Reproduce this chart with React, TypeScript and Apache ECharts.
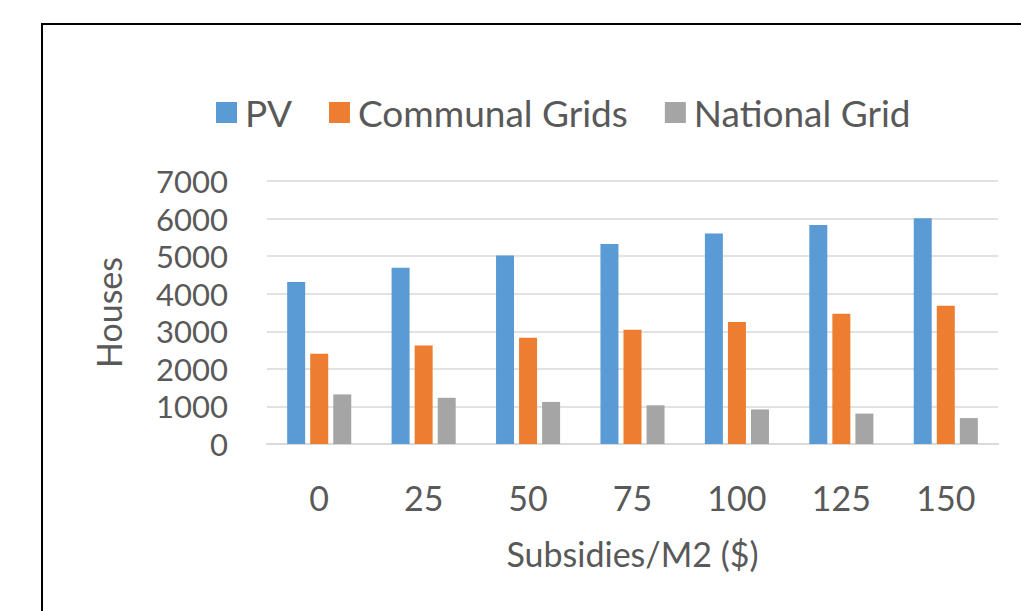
import React, { useEffect, useRef } from "react";
import * as echarts from "echarts";

const categories = ["0", "25", "50", "75", "100", "125", "150"];
const pvValues = [4310, 4690, 5020, 5320, 5600, 5830, 6010];
const communalValues = [2400, 2620, 2830, 3040, 3250, 3470, 3680];
const nationalValues = [1320, 1230, 1120, 1030, 920, 810, 690];
const seriesNames = ["PV", "Communal Grids", "National Grid"];
const colors = ["#5B9BD5", "#ED7D31", "#A5A5A5"];

const FONT = "Lato, sans-serif";
const TEXT = "#595959";

export default function App() {
  const ref = useRef<HTMLDivElement>(null);
  useEffect(() => {
    if (!ref.current) return;
    const chart = echarts.init(ref.current, null, { renderer: "svg" });
    const data = [pvValues, communalValues, nationalValues];
    chart.setOption({
      animation: false,
      backgroundColor: "#ffffff",
      graphic: [
        {
          type: "rect",
          shape: { x: 42, y: 24, width: 1200, height: 800 },
          style: { fill: "none", stroke: "#000000", lineWidth: 2 },
          silent: true,
        },
      ],
      legend: {
        left: 216,
        top: 94,
        padding: 0,
        itemWidth: 21,
        itemHeight: 21,
        itemGap: 37,
        icon: "rect",
        textStyle: { fontFamily: FONT, fontSize: 37, color: TEXT, padding: [0, 0, 0, 3] },
        data: seriesNames,
      },
      grid: { left: 267, right: 23, top: 181, bottom: 167, containLabel: false },
      xAxis: {
        type: "category",
        data: categories,
        name: "Subsidies/M2 ($)",
        nameLocation: "middle",
        nameGap: 92,
        nameTextStyle: { fontFamily: FONT, fontSize: 34, color: TEXT },
        axisLine: { lineStyle: { color: "#D9D9D9", width: 2 } },
        axisTick: { show: false },
        axisLabel: { fontFamily: FONT, fontSize: 34, color: TEXT, margin: 36 },
      },
      yAxis: {
        type: "value",
        min: 0,
        max: 7000,
        interval: 1000,
        name: "Houses",
        nameLocation: "middle",
        nameGap: 142,
        nameTextStyle: { fontFamily: FONT, fontSize: 34, color: TEXT },
        axisLine: { show: false },
        axisTick: { show: false },
        splitLine: { lineStyle: { color: "#D9D9D9", width: 1.5 } },
        axisLabel: {
          fontFamily: FONT,
          fontSize: 31,
          lineHeight: 34,
          color: TEXT,
          margin: 39,
          formatter: (v: number) => String(v),
        },
      },
      series: seriesNames.map((n, i) => ({
        name: n,
        type: "bar",
        data: data[i],
        barWidth: 18,
        barGap: "28%",
        itemStyle: { color: colors[i] },
      })),
    });
    return () => chart.dispose();
  }, []);
  return (
    <div
      ref={ref}
      style={{ position: "fixed", left: 0, top: 0, width: 1021, height: 611 }}
    />
  );
}
